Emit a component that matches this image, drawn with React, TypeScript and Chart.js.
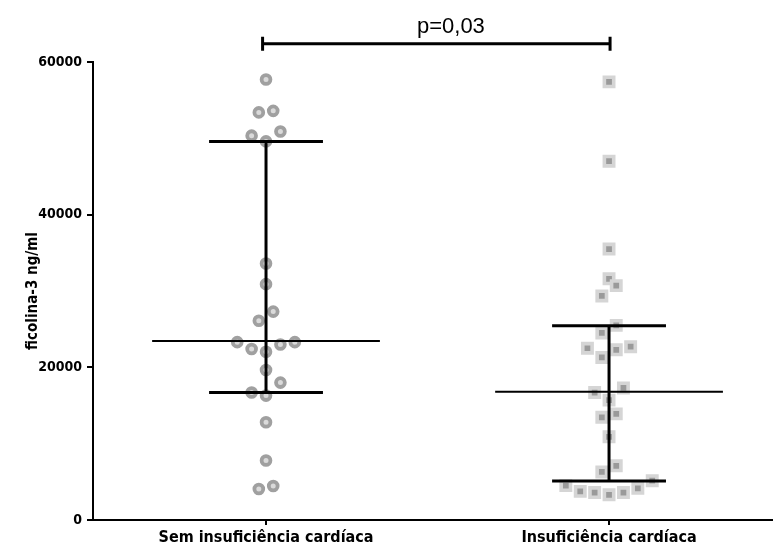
import React, { useEffect, useRef } from "react";
import { Chart, registerables } from "chart.js";

Chart.register(...registerables);

// ---- data ----
const categories = ["Sem insuficiência cardíaca", "Insuficiência cardíaca"];
const semInsuficiencia = [
  57700, 53600, 53400, 50900, 50350, 49600, 33600, 30900, 27300, 26100, 23300,
  23300, 23000, 22400, 22050, 19650, 18000, 16700, 16300, 12800, 7800, 4450, 4060,
];
const insuficiencia = [
  57400, 47000, 35500, 31600, 30700, 29350, 25500, 24500, 22700, 22500, 22300,
  21300, 17300, 16700, 15700, 13900, 13450, 10900, 7100, 6300, 5150, 4500, 4150,
  3750, 3600, 3600, 3300,
];
const medians = [23450, 16800];
const quartile1 = [16700, 5100];
const quartile3 = [49600, 25450];
const yTicks = [0, 20000, 40000, 60000];
const yTitle = "ficolina-3 ng/ml";
const pLabel = "p=0,03";
const bracketValue = 62400;

const FONT = "'DejaVu Sans Condensed', 'DejaVu Sans', Verdana, sans-serif";

type Scale = any;

function swarm(values: number[], center: number, xs: Scale, ys: Scale, rowPx: number, slotPx: number) {
  const sorted = values.map((v, i) => ({ v, i })).sort((a, b) => a.v - b.v);
  const out: { x: number; y: number }[] = new Array(values.length);
  let k = 0;
  const cpx = xs.getPixelForValue(center);
  while (k < sorted.length) {
    const startPx = ys.getPixelForValue(sorted[k].v);
    const row: { v: number; i: number }[] = [];
    while (k < sorted.length && startPx - ys.getPixelForValue(sorted[k].v) < rowPx) {
      row.push(sorted[k]);
      k++;
    }
    const n = row.length;
    const slots: number[] = [];
    for (let s = 0; s < n; s++) slots.push(s - (n - 1) / 2);
    slots.sort((a, b) => Math.abs(a) - Math.abs(b) || a - b);
    row.forEach((p, j) => {
      out[p.i] = { x: xs.getValueForPixel(cpx + slots[j] * slotPx), y: p.v };
    });
  }
  return out;
}

function summaryDatasets() {
  const sets: any[] = [];
  const half = 0.332;
  const cap = 0.166;
  medians.forEach((m, g) => {
    const c = g + 1;
    const base = {
      type: "line",
      showLine: true,
      pointRadius: 0,
      borderColor: "#000",
      borderCapStyle: "butt",
      fill: false,
      order: 0,
    };
    sets.push({ ...base, borderWidth: 2, data: [{ x: c - half, y: m }, { x: c + half, y: m }] });
    sets.push({ ...base, borderWidth: 3, data: [{ x: c - cap, y: quartile3[g] }, { x: c + cap, y: quartile3[g] }] });
    sets.push({ ...base, borderWidth: 3, data: [{ x: c - cap, y: quartile1[g] }, { x: c + cap, y: quartile1[g] }] });
    sets.push({ ...base, borderWidth: 3, data: [{ x: c, y: quartile1[g] }, { x: c, y: quartile3[g] }] });
  });
  return sets;
}

const bracketPlugin = {
  id: "bracket",
  afterDraw(chart: any) {
    const { ctx, scales } = chart;
    const x = scales.x;
    const y = scales.y;
    const yy = y.getPixelForValue(bracketValue);
    const x1 = x.getPixelForValue(0.99);
    const x2 = x.getPixelForValue(2.003);
    ctx.save();
    ctx.strokeStyle = "#000";
    ctx.lineWidth = 3;
    ctx.beginPath();
    ctx.moveTo(x1, yy);
    ctx.lineTo(x2, yy);
    ctx.moveTo(x1, yy - 7);
    ctx.lineTo(x1, yy + 7);
    ctx.moveTo(x2, yy - 7);
    ctx.lineTo(x2, yy + 7);
    ctx.stroke();
    ctx.fillStyle = "#000";
    ctx.font = "22px 'Liberation Sans', Arial, sans-serif";
    ctx.textAlign = "center";
    ctx.textBaseline = "alphabetic";
    ctx.fillText(pLabel, x.getPixelForValue(1.539), yy - 11);
    ctx.restore();
  },
};

export default function App() {
  const ref = useRef<HTMLCanvasElement | null>(null);

  useEffect(() => {
    if (!ref.current) return;
    const circleSet = {
      type: "scatter",
      data: semInsuficiencia.map((v) => ({ x: 1, y: v })),
      pointStyle: "circle",
      pointRadius: 4.4,
      borderWidth: 3.8,
      borderColor: "#a0a0a0",
      backgroundColor: "#dadada",
      order: 1,
      clip: false,
    };
    const squareSet = {
      type: "scatter",
      data: insuficiencia.map((v) => ({ x: 2, y: v })),
      pointStyle: "rect",
      pointRadius: 6.6,
      borderWidth: 3.6,
      borderColor: "#d5d5d5",
      backgroundColor: "#9a9a9a",
      order: 1,
      clip: false,
    };
    const chart = new Chart(ref.current, {
      type: "scatter",
      data: { datasets: [circleSet, squareSet, ...summaryDatasets()] as any },
      options: {
        responsive: false,
        animation: false,
        events: [],
        layout: { autoPadding: false, padding: { top: 62, right: 0, left: 0, bottom: 0 } },
        plugins: { legend: { display: false }, tooltip: { enabled: false } },
        scales: {
          x: {
            type: "linear",
            min: 0.4956,
            max: 2.478,
            afterBuildTicks: (scale: any) => {
              scale.ticks = categories.map((_, i) => ({ value: i + 1 }));
            },
            afterFit: (scale: any) => {
              scale.height = 28;
            },
            grid: { display: true, drawOnChartArea: false, drawTicks: true, tickLength: 5, color: "#000", lineWidth: 2 },
            border: { display: true, color: "#000", width: 2 },
            ticks: {
              color: "#000",
              font: { family: FONT, size: 16, weight: "bold" },
              padding: 3,
              maxRotation: 0,
              autoSkip: false,
              callback: (_v: any, i: number) => categories[i],
            },
          },
          y: {
            type: "linear",
            min: 0,
            max: 60000,
            afterBuildTicks: (scale: any) => {
              scale.ticks = yTicks.map((v) => ({ value: v }));
            },
            afterFit: (scale: any) => {
              scale.width = 93;
            },
            grid: { display: true, drawOnChartArea: false, drawTicks: true, tickLength: 6, color: "#000", lineWidth: 2 },
            border: { display: true, color: "#000", width: 2 },
            ticks: {
              color: "#000",
              font: { family: FONT, size: 14, weight: "bold" },
              padding: 5,
              callback: (v: any) => String(v),
            },
            title: {
              display: true,
              text: yTitle,
              color: "#000",
              font: { family: FONT, size: 15, weight: "bold" },
              padding: { top: 24, bottom: 0 },
            },
          },
        },
      } as any,
      plugins: [bracketPlugin],
    });

    const xs = chart.scales.x;
    const ys = chart.scales.y;
    (chart.data.datasets[0] as any).data = swarm(semInsuficiencia, 1, xs, ys, 15, 14.4);
    (chart.data.datasets[1] as any).data = swarm(insuficiencia, 2, xs, ys, 15, 14.4);
    chart.update();

    return () => chart.destroy();
  }, []);

  return (
    <div style={{ position: "absolute", left: 0, top: 0, width: 773, height: 548, background: "#fff" }}>
      <canvas ref={ref} width={773} height={548} style={{ display: "block" }} />
    </div>
  );
}
